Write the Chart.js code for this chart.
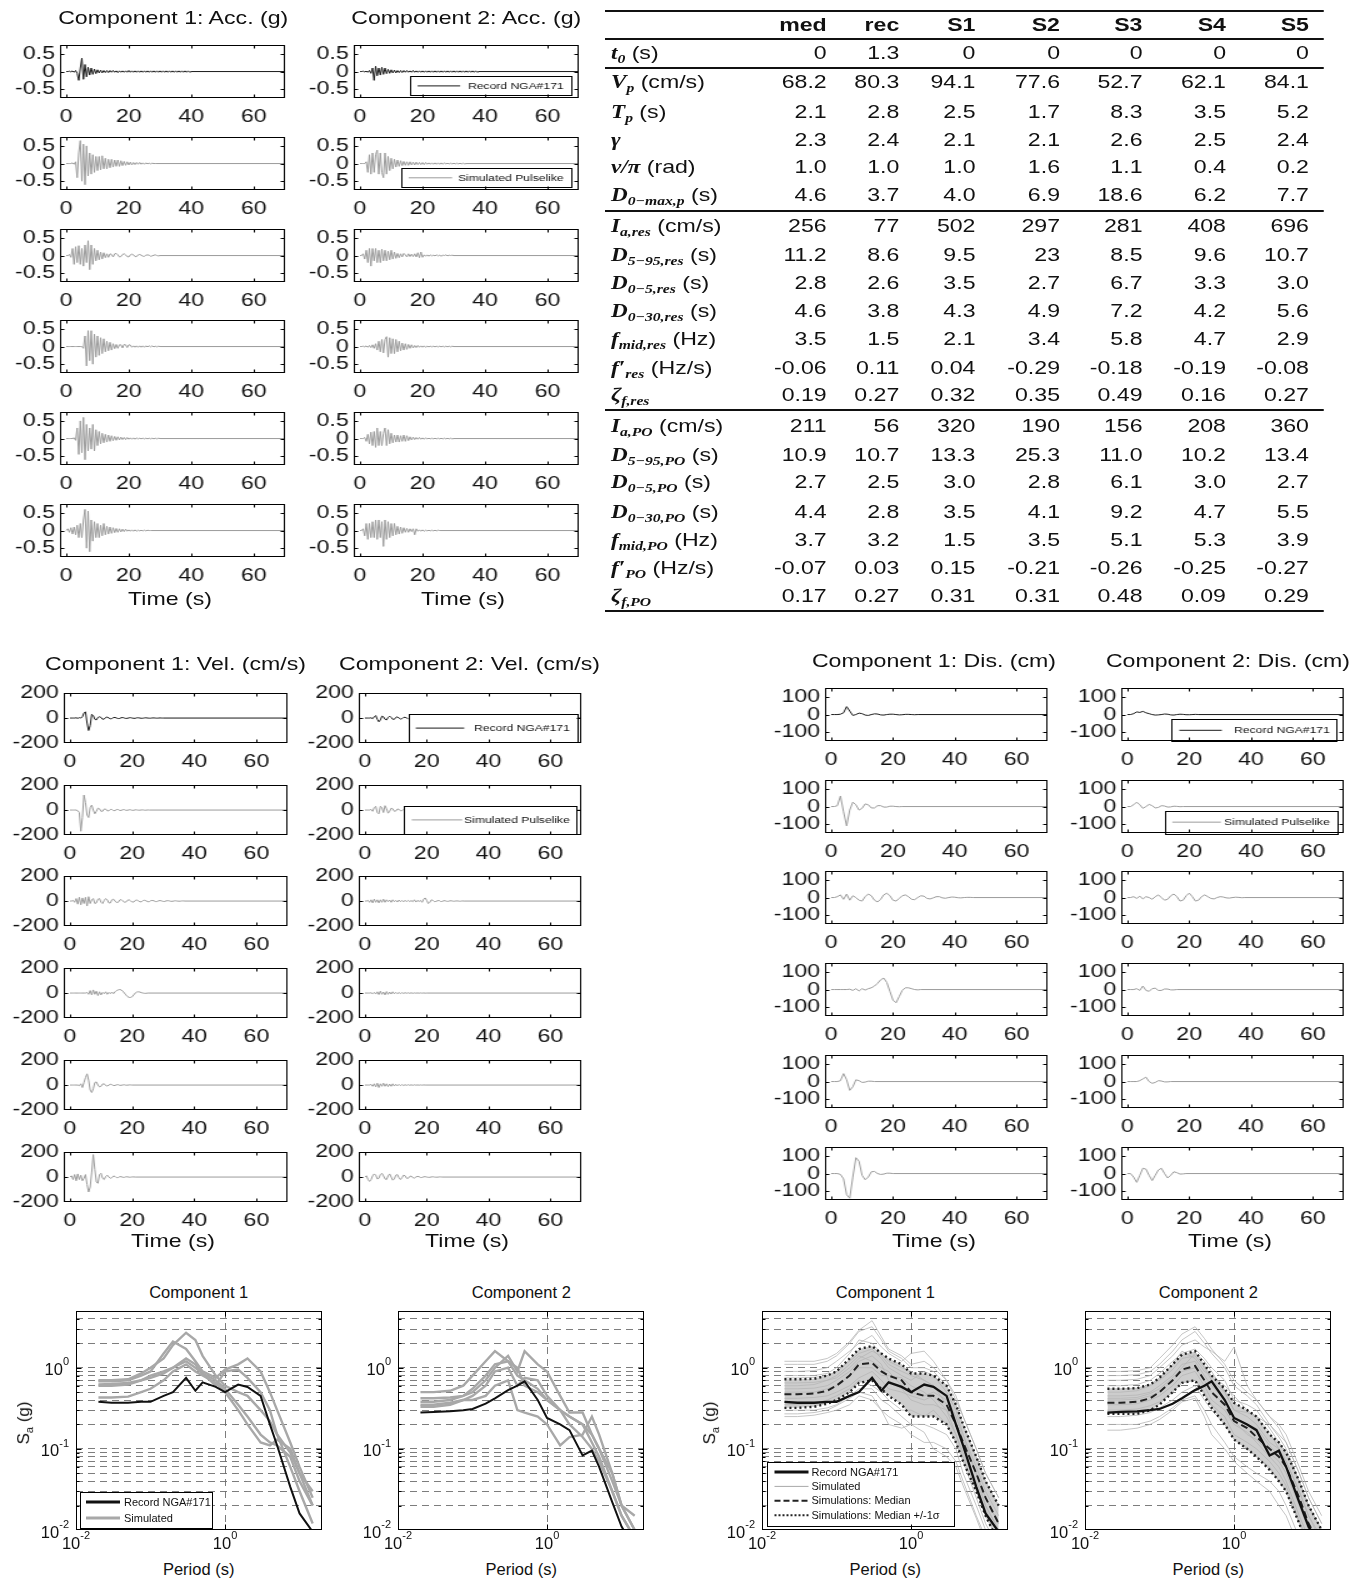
<!DOCTYPE html>
<html>
<head>
<meta charset="utf-8">
<script src="https://cdn.jsdelivr.net/npm/chart.js@4.4.1/dist/chart.umd.min.js"></script>
<style>
  body { margin:0; background:#fff; width:1364px; height:1580px; position:relative; overflow:hidden;
         font-family:"Liberation Sans", Arial, sans-serif; color:#111; }
  #upper { position:absolute; left:0; top:0; width:1100px; height:1260px; transform:scaleX(1.25); transform-origin:0 0; }
  #lower { position:absolute; left:0; top:0; width:1364px; height:1580px; }
  canvas { position:absolute; }
  .t { position:absolute; white-space:nowrap; text-align:center; }
  .m { font-family:"Liberation Serif", "DejaVu Serif", serif; font-weight:bold; font-style:italic; }
  sub.m { font-size:12.5px; vertical-align:-4px; line-height:0; }
</style>
</head>
<body>
<div id="lower"></div>
<div id="upper"></div>
<script>
// ---- time histories -------------------------------------------------------
const REC_END = 70;
const DT_ACC = 0.5, DT_VEL = 0.5, DT_DIS = 1;
const TIME_TICKS = [0, 20, 40, 60];

// acceleration (g), row 0 = record NGA#171, rows 1-5 = simulations
const ACC_C1 = [
  [0,0,0.01,-0.01,0.02,-0.02,0.03,-0.05,-0.25,0.1,0.38,-0.22,0.2,-0.15,0.12,-0.1,0.1,-0.08,0.07,-0.06,0.05,-0.04,0.04,-0.04,0.03,-0.03,0.03,-0.03,0.03,-0.02,0.03,-0.02,0.02,-0.03,0.02,-0.02,0.02,-0.02,0.02,-0.02,0.03,-0.02,0.02,-0.02,0.02,-0.02,0.02,-0.02,0.02,-0.02,0.02,-0.02,0.02,-0.02,0.02,-0.02,0.02,-0.02,0.02,-0.02,0.02,-0.02,0.02,-0.02,0.02,-0.02,0.02,-0.02,0.02,-0.02,0.02,-0.02,0.02,-0.02,0.02,-0.02,0.02,-0.02,0.02,-0.02,0],
  [0,0,0,0,0.02,-0.02,0.05,-0.4,0.3,0.65,-0.5,0.55,-0.6,0.5,-0.35,0.3,-0.3,0.25,-0.25,0.2,-0.2,0.2,-0.18,0.22,-0.15,0.15,-0.15,0.12,-0.12,0.12,-0.1,0.1,-0.08,0.1,-0.08,0.08,-0.06,0.06,-0.05,0.05,-0.04,0.04,-0.04,0.03,-0.03,0.03,-0.02,0.03,-0.02,0.02,-0.02,0.02,-0.01,0.01,-0.01,0.01,0,0],
  [0,0,0.03,-0.05,0.2,-0.25,0.25,-0.2,0.28,-0.25,0.2,-0.3,0.3,-0.2,0.42,-0.4,0.3,-0.25,0.2,-0.15,0.15,-0.12,0.1,-0.1,0.08,-0.06,0.05,-0.05,0.05,0.03,-0.04,0.05,0.06,0.02,-0.04,-0.03,0.03,0.05,0.02,-0.03,-0.04,0.02,0.04,0.02,-0.03,-0.03,0.02,0.03,0.01,-0.02,-0.02,0.01,0.02,0.01,-0.02,-0.01,0.01,0.02,0,-0.01,0],
  [0,0,0,0,0,0,0,0,0,0,0,-0.05,0.3,-0.55,0.45,-0.4,0.45,-0.5,0.35,-0.3,0.3,-0.25,0.25,-0.2,0.22,-0.15,0.15,-0.12,0.12,-0.1,0.08,-0.06,0.06,-0.05,0.05,0.05,-0.04,0.06,0.05,-0.03,0.05,0.04,-0.02,0.02,-0.02,0.02,-0.02,0.02,-0.02,0.02,-0.02,0.02,-0.01,0.02,-0.01,0.02,-0.01,0.01,-0.01,0.01,0],
  [0,0,0,0,0,0.02,-0.05,0.3,-0.45,0.5,-0.4,0.6,-0.6,0.4,-0.35,0.3,-0.3,0.4,-0.35,0.25,-0.2,0.2,-0.15,0.15,-0.12,0.12,-0.1,0.1,-0.08,0.08,-0.06,0.06,-0.05,0.05,-0.04,0.04,-0.03,0.03,-0.03,0.03,-0.02,0.02,-0.02,0.02,-0.02,0.02,-0.01,0.01,-0.01,0.01,-0.01,0.01,-0.01,0.01,-0.01,0.01,-0.01,0.01,-0.01,0.01,0],
  [0,0.05,-0.05,0.08,-0.1,0.1,-0.12,0.15,-0.2,0.2,-0.2,0.3,0.6,-0.5,0.55,-0.6,0.3,-0.3,0.25,-0.2,0.2,-0.2,0.15,-0.15,0.2,-0.12,0.12,-0.1,0.1,-0.08,0.08,-0.06,0.06,-0.05,0.05,-0.04,0.04,-0.03,0.04,-0.02,0.02,-0.02,0.02,-0.02,0.02,-0.02,0.01,-0.01,0.01,-0.01,0.01,-0.01,0.01,0,0]
];
const ACC_C2 = [
  [0,0,0.01,-0.01,0.01,-0.02,0.03,-0.05,0.1,-0.25,0.15,-0.12,0.1,-0.1,0.12,-0.08,0.1,-0.06,0.06,-0.05,0.05,-0.04,0.04,-0.04,0.03,-0.03,0.03,-0.03,0.03,-0.02,0.03,-0.02,0.02,-0.02,0.03,-0.02,0.02,-0.02,0.02,-0.02,0.02,-0.02,0.02,-0.02,0.02,-0.02,0.02,-0.02,0.02,-0.02,0.02,-0.02,0.02,-0.02,0.02,-0.02,0.02,-0.02,0.02,-0.02,0.02,-0.02,0.02,-0.02,0.02,-0.02,0.02,-0.02,0.02,-0.02,0.02,-0.02,0.02,-0.02,0.02,-0.02,0],
  [0,0,0,0,0.05,-0.25,0.25,-0.3,0.3,-0.25,0.25,0.38,-0.3,0.3,-0.25,-0.4,0.3,-0.3,0.2,-0.2,0.15,-0.15,0.12,-0.1,0.1,-0.08,0.08,-0.06,0.06,-0.05,0.05,-0.05,0.05,-0.04,0.04,-0.04,0.04,-0.03,0.03,-0.03,0.03,-0.03,0.03,-0.02,0.02,-0.02,0.02,-0.02,0.02,-0.02,0.02,-0.02,0.02,-0.02,0.02,-0.01,0.01,-0.01,0.01,-0.01,0.01,-0.01,0.01,-0.01,0.01,-0.01,0.01,-0.01,0],
  [0,0,0.05,-0.1,0.15,-0.2,0.2,-0.3,0.2,-0.15,0.2,-0.2,0.15,-0.2,0.18,-0.15,0.15,-0.15,0.12,-0.12,0.15,-0.1,0.1,-0.08,0.06,-0.06,0.05,-0.04,0.06,0.02,-0.04,0.05,-0.03,0.04,-0.03,0.05,-0.04,0.08,-0.06,0.1,-0.05,0.02,-0.02,0.02,-0.02,0.02,-0.01,0.01,-0.01,0.02,-0.01,0.01,-0.02,0.01,0,0.02,-0.01,0.01,0,0.01,0],
  [0,0,0.01,-0.01,0.02,-0.02,0.03,-0.03,0.05,-0.05,0.08,-0.1,0.15,-0.15,0.2,-0.18,0.2,0.28,-0.3,0.25,-0.2,0.22,-0.2,0.2,-0.15,0.15,-0.12,0.1,-0.1,0.08,-0.08,0.06,-0.05,0.05,-0.04,0.03,-0.03,0.03,-0.02,0.02,-0.02,0.02,-0.02,0.01,-0.01,0.01,-0.01,0.01,-0.01,0.01,-0.01,0.01,-0.01,0.01,-0.01,0.01,-0.01,0.01,-0.01,0.01,0],
  [0,0,0,0.03,-0.08,0.12,-0.15,0.18,-0.2,0.2,-0.25,0.3,-0.2,0.2,-0.2,0.15,0.3,-0.2,0.25,-0.15,0.15,-0.12,0.1,-0.1,0.1,-0.1,0.08,-0.08,0.1,-0.08,0.08,-0.06,0.05,-0.04,0.04,-0.03,0.03,-0.02,0.03,-0.02,0.02,-0.02,0.02,-0.01,0.01,-0.01,0.01,-0.01,0.01,-0.01,0.01,-0.01,0.01,-0.01,0.01,-0.01,0.01,-0.01,0.01,-0.01,0],
  [0,0,0.05,-0.15,0.2,-0.25,0.2,-0.2,0.25,-0.2,0.3,-0.25,0.3,-0.2,0.25,-0.45,0.3,-0.25,0.25,-0.2,0.2,-0.15,0.2,-0.12,0.12,-0.1,0.1,-0.08,0.08,-0.05,0.06,-0.05,0.05,-0.03,0.05,-0.12,0.05,-0.02,0.02,-0.02,0.02,-0.02,0.01,-0.01,0.01,-0.01,0.01,-0.01,0.01,-0.01,0.01,0,0]
];

// velocity (cm/s)
const VEL_C1 = [
  [0,0,0,0,2,-2,3,0,10,40,50,-40,-100,-60,30,20,-10,-15,5,10,5,-10,-8,5,8,0,-6,-4,4,5,0,-4,-3,3,4,0,-3,-2,2,3,0,-2,-2,2,2,0,-2,-1,1,2,0,-1,-1,1,1,0,-1,0,1,0,0],
  [0,0,0,0,0,-5,-20,-170,-60,120,60,-40,-60,20,40,0,-30,-10,15,10,-10,-10,8,8,-6,-6,5,5,-5,-4,4,4,-3,-3,3,3,-2,-2,2,2,-2,-2,2,1,-1,-1,1,1,-1,-1,1,0],
  [0,0,5,-10,20,-25,30,-30,25,-20,30,-40,35,-20,10,20,-20,-15,15,20,-10,-20,5,20,10,-15,-15,10,15,0,-12,-10,8,12,2,-10,-8,6,10,2,-8,-8,5,8,2,-6,-6,4,6,2,-5,-5,3,5,2,-4,-4,2,4,1,-3,-3,2,3,1,-2,-2,1,2,0,-1,-1,1,1,0],
  [0,0,0,0,0,0,0,0,0,0,0,5,-10,20,-15,25,-10,15,-20,10,-15,5,-5,10,-10,5,-5,8,-5,10,20,25,28,25,15,0,-15,-28,-35,-35,-30,-15,0,8,10,8,3,0,-2,-2,0],
  [0,0,0,0,0,0,-5,10,-20,20,60,90,40,-40,-60,-30,20,25,0,-15,-10,8,10,-4,-8,0,6,3,-4,-3,2,3,-2,-2,1,2,-1,-1,1,1,0],
  [0,10,-20,20,-30,25,-20,15,-30,-10,20,-60,-120,-80,40,180,60,-40,-50,20,30,-10,-20,5,15,0,-10,-5,8,5,-5,-4,3,3,-2,-2,2,2,-1,-1,1,1,0]
];
const VEL_C2 = [
  [0,0,0,0,2,-5,10,20,-10,-30,-15,15,10,-10,-15,5,15,5,-10,-10,5,10,0,-8,-5,5,6,0,-5,-3,3,4,0,-3,-2,2,3,0,-2,-2,2,2,0,-2,-1,1,1,0,-1,-1,1,1,0],
  [0,0,0,0,5,-10,20,30,-20,-30,30,20,-20,35,10,-25,-10,15,10,-10,-8,8,6,-6,-5,5,4,-4,-3,3,3,-3,-2,2,2,-2,-1,1,1,-1,0],
  [0,0,5,-10,10,-15,15,-10,10,-15,10,-10,15,-10,10,-5,8,-10,10,-5,5,-8,8,-5,5,-6,6,-5,5,-4,4,-5,10,-8,5,-3,5,-10,15,25,5,-20,-10,10,5,-5,-3,3,4,-4,-3,3,2,-2,-2,2,2,-1,-1,1,1,-1,-1,1,0],
  [0,0,0,0,2,-5,5,-8,10,-12,15,-10,8,-15,12,-10,8,-8,10,-6,5,-5,4,-4,3,-3,3,-2,2,-2,2,-2,1,-1,1,-1,1,-1,1,-1,0],
  [0,0,0,0,5,-10,10,-15,15,-20,10,-10,15,-10,10,-12,8,-10,10,-8,6,-6,5,-5,4,-4,3,-3,3,-2,2,-2,2,-1,1,-1,1,-1,1,0],
  [0,10,-20,-35,-20,10,25,15,-15,-10,20,30,10,-15,-20,10,25,0,-25,-15,15,20,-5,-20,-5,15,10,-10,-10,5,8,-5,-8,0,6,3,-4,-3,2,3,0,-2,-2,1,2,0,-1,-1,1,1,0]
];

// displacement (cm)
const DIS_C1 = [
  [0,0,0,2,10,45,20,-5,0,8,5,-3,-5,0,4,3,-2,-3,0,2,2,0,-2,-1,1,1,0,-1,0],
  [0,0,5,60,-30,-110,-20,25,10,-20,-10,15,10,-8,-8,5,5,-3,-3,2,2,0,-1,0],
  [0,0,5,15,-10,20,-15,10,0,-15,-20,5,20,10,-15,-25,-10,15,25,10,-15,-20,-5,10,15,5,-10,-12,0,10,8,-5,-8,-2,5,5,-2,-4,0,3,2,-1,-2,0,1,1,0],
  [0,0,0,0,0,0,2,-5,5,-8,5,-3,5,10,20,35,55,65,40,-10,-60,-75,-40,-5,10,10,5,0,-2,0],
  [0,0,0,5,45,10,-50,-30,10,5,-5,-3,2,2,0],
  [0,0,0,-5,-30,-120,-140,-20,90,70,-10,-35,-20,10,12,0,-5,-3,2,2,0]
];
const DIS_C2 = [
  [0,0,5,15,12,18,10,5,0,-3,-2,0,3,2,-2,-3,0,2,1,-1,-1,0,1,0],
  [0,0,10,25,10,-10,0,12,5,-8,-5,5,3,-3,-2,2,1,-1,0],
  [0,0,5,-5,8,-8,5,0,-10,5,15,0,-15,-10,10,20,5,-20,-15,10,25,5,-20,-15,5,15,5,-5,-8,0,5,3,-2,-3,0,2,1,-1,0],
  [0,0,0,5,-5,20,-5,-10,5,8,-5,-5,3,3,-2,-2,0],
  [0,0,0,0,5,15,25,0,-10,-5,5,3,-2,-2,0],
  [0,0,-20,-50,-10,30,25,-10,-40,-10,20,30,0,-25,-10,10,5,-3,-2,0]
];

// ---- response spectra (Sa in g) --------------------------------------------
const PERIODS = [0.02,0.03,0.05,0.075,0.1,0.15,0.2,0.3,0.4,0.5,0.75,1,1.5,2,3,4,5,7.5,10,15];
const SA_REC_C1 = [0.38,0.37,0.37,0.38,0.38,0.45,0.5,0.75,0.52,0.66,0.58,0.5,0.62,0.58,0.45,0.2,0.11,0.034,0.016,0.0095];
const SA_REC_C2 = [0.28,0.285,0.29,0.3,0.31,0.36,0.42,0.53,0.6,0.68,0.4,0.24,0.2,0.17,0.083,0.095,0.06,0.022,0.011,0.006];
const SA_SIM5_C1 = [
  [0.70,0.70,0.72,0.85,1.0,1.3,1.9,2.7,2.2,1.4,0.8,0.6,0.5,0.45,0.3,0.22,0.15,0.09,0.05,0.03],
  [0.68,0.68,0.70,0.80,0.9,1.5,2.1,1.7,1.2,0.9,0.75,0.95,1.1,1.3,0.9,0.5,0.3,0.12,0.06,0.025],
  [0.62,0.63,0.65,0.70,0.75,0.85,1.0,1.3,1.1,0.85,0.7,0.55,0.35,0.25,0.15,0.12,0.11,0.08,0.04,0.02],
  [0.60,0.60,0.62,0.70,0.80,0.9,1.0,1.2,1.0,0.85,0.6,0.9,0.95,0.75,0.5,0.3,0.15,0.06,0.03,0.012],
  [0.43,0.43,0.44,0.5,0.55,0.7,0.9,1.1,0.9,0.8,0.65,0.5,0.3,0.2,0.12,0.11,0.13,0.1,0.05,0.02]
];
const SA_SIM5_C2 = [
  [0.5,0.5,0.52,0.6,0.8,1.2,1.6,1.2,1.0,0.6,0.5,0.4,0.3,0.25,0.2,0.12,0.08,0.03,0.015,0.008],
  [0.42,0.42,0.43,0.45,0.5,0.7,1.0,1.4,0.9,1.6,1.1,0.9,0.45,0.28,0.28,0.15,0.1,0.04,0.02,0.015],
  [0.38,0.38,0.40,0.45,0.55,0.8,1.1,1.2,0.8,0.7,0.55,0.4,0.3,0.2,0.14,0.1,0.07,0.03,0.015,0.008],
  [0.35,0.35,0.37,0.40,0.45,0.6,0.9,1.0,0.6,0.75,0.7,0.45,0.3,0.25,0.2,0.15,0.1,0.05,0.02,0.01],
  [0.33,0.33,0.35,0.4,0.4,0.45,0.6,0.7,0.3,0.28,0.25,0.2,0.11,0.14,0.15,0.25,0.15,0.05,0.02,0.01]
];
const SA_MED_C1 = [0.47,0.47,0.48,0.52,0.6,0.8,1.1,1.15,0.9,0.8,0.7,0.5,0.45,0.45,0.35,0.2,0.12,0.05,0.025,0.012];
const SA_HI_C1  = [0.72,0.72,0.73,0.8,0.9,1.3,1.7,1.85,1.5,1.3,1.1,0.85,0.85,0.8,0.6,0.35,0.2,0.08,0.04,0.02];
const SA_LO_C1  = [0.32,0.32,0.33,0.36,0.4,0.5,0.65,0.7,0.55,0.45,0.35,0.25,0.25,0.25,0.2,0.12,0.07,0.03,0.015,0.007];
const SA_MED_C2 = [0.37,0.37,0.38,0.42,0.5,0.7,0.95,1.05,0.7,0.5,0.35,0.22,0.18,0.14,0.1,0.08,0.06,0.025,0.012,0.006];
const SA_HI_C2  = [0.55,0.55,0.56,0.62,0.75,1.1,1.45,1.6,1.1,0.8,0.55,0.37,0.3,0.25,0.15,0.12,0.09,0.04,0.02,0.01];
const SA_LO_C2  = [0.27,0.27,0.27,0.30,0.35,0.5,0.65,0.7,0.45,0.32,0.2,0.13,0.1,0.08,0.055,0.04,0.03,0.012,0.006,0.003];
const SA_MANY_C1 = [
  [1.2,1.2,1.2,1.3,1.5,2.1,2.9,3.8,2.4,1.7,1.4,1.1,1.2,1.0,0.7,0.45,0.25,0.1,0.05,0.025],
  [1.1,1.1,1.1,1.2,1.4,2.0,2.8,3.2,2.2,1.6,1.3,1.0,1.0,0.9,0.6,0.35,0.2,0.08,0.04,0.02],
  [0.9,0.9,0.92,1.0,1.2,1.6,2.0,2.5,1.8,1.5,1.2,1.5,1.6,1.2,0.7,0.4,0.25,0.1,0.05,0.025],
  [0.75,0.75,0.76,0.8,0.9,1.2,1.5,1.7,1.3,1.0,0.8,0.7,0.9,0.8,0.5,0.3,0.15,0.06,0.03,0.015],
  [0.65,0.65,0.66,0.7,0.8,1.1,1.4,1.2,1.0,0.9,0.6,0.5,0.45,0.5,0.4,0.25,0.15,0.05,0.025,0.012],
  [0.55,0.55,0.56,0.6,0.7,0.9,1.2,1.4,1.1,0.7,0.55,0.4,0.35,0.35,0.3,0.2,0.12,0.05,0.02,0.01],
  [0.5,0.5,0.5,0.55,0.6,0.8,1.0,1.0,0.8,0.8,0.75,0.6,0.5,0.4,0.25,0.15,0.09,0.035,0.018,0.009],
  [0.42,0.42,0.43,0.45,0.5,0.6,0.75,0.9,0.7,0.55,0.5,0.45,0.4,0.45,0.3,0.15,0.08,0.03,0.015,0.007],
  [0.35,0.35,0.36,0.4,0.45,0.55,0.7,0.6,0.5,0.4,0.3,0.3,0.25,0.3,0.2,0.12,0.07,0.025,0.012,0.006],
  [0.3,0.3,0.3,0.32,0.35,0.45,0.55,0.55,0.4,0.35,0.25,0.2,0.2,0.18,0.15,0.1,0.05,0.02,0.01,0.005],
  [0.25,0.25,0.26,0.28,0.3,0.35,0.45,0.4,0.3,0.25,0.2,0.15,0.12,0.12,0.1,0.07,0.04,0.015,0.008,0.004],
  [0.8,0.8,0.8,0.85,1.0,1.5,2.2,2.0,1.5,1.2,1.0,0.9,0.7,0.6,0.45,0.25,0.13,0.05,0.025,0.012],
  [0.6,0.6,0.62,0.7,0.75,1.0,1.3,1.6,1.4,1.1,0.9,0.8,0.7,0.6,0.35,0.2,0.1,0.04,0.02,0.01],
  [0.27,0.27,0.28,0.3,0.34,0.42,0.5,0.45,0.3,0.2,0.18,0.2,0.16,0.1,0.08,0.06,0.035,0.014,0.007,0.004]
];
const SA_MANY_C2 = [
  [0.9,0.9,0.92,1.0,1.3,1.9,2.6,3.2,2.3,1.7,1.1,0.7,0.5,0.4,0.25,0.2,0.15,0.06,0.03,0.015],
  [0.8,0.8,0.82,0.9,1.1,1.6,2.2,2.8,2.0,1.5,1.0,0.6,0.45,0.35,0.2,0.15,0.12,0.05,0.025,0.012],
  [0.7,0.7,0.72,0.8,1.0,1.4,1.9,2.2,1.8,1.6,1.2,1.8,0.6,0.4,0.25,0.18,0.12,0.05,0.025,0.012],
  [0.6,0.6,0.62,0.7,0.85,1.2,1.5,1.7,1.3,1.0,0.7,0.4,0.35,0.3,0.18,0.12,0.09,0.04,0.02,0.01],
  [0.5,0.5,0.52,0.6,0.7,0.95,1.3,1.4,1.0,0.7,0.5,0.3,0.25,0.2,0.12,0.1,0.07,0.03,0.015,0.008],
  [0.45,0.45,0.46,0.5,0.6,0.8,1.1,1.2,0.8,0.6,0.4,0.25,0.2,0.18,0.11,0.08,0.06,0.025,0.012,0.006],
  [0.4,0.4,0.41,0.45,0.5,0.7,0.9,1.0,0.7,0.5,0.35,0.22,0.15,0.13,0.09,0.07,0.05,0.02,0.01,0.005],
  [0.35,0.35,0.36,0.4,0.45,0.6,0.8,0.9,0.6,0.4,0.3,0.2,0.16,0.12,0.08,0.06,0.04,0.015,0.008,0.004],
  [0.3,0.3,0.31,0.34,0.38,0.5,0.65,0.7,0.5,0.35,0.25,0.15,0.12,0.1,0.07,0.05,0.035,0.013,0.007,0.003],
  [0.25,0.25,0.26,0.28,0.32,0.4,0.5,0.6,0.4,0.3,0.2,0.13,0.1,0.08,0.06,0.04,0.03,0.012,0.006,0.003],
  [0.2,0.2,0.2,0.22,0.25,0.32,0.4,0.45,0.3,0.2,0.12,0.08,0.06,0.05,0.04,0.03,0.02,0.008,0.004,0.002],
  [0.55,0.55,0.56,0.62,0.75,1.1,1.6,1.3,0.9,0.8,0.6,0.45,0.3,0.25,0.2,0.14,0.1,0.04,0.02,0.01],
  [0.42,0.42,0.43,0.48,0.55,0.75,1.0,1.5,1.2,0.9,0.5,0.3,0.28,0.25,0.16,0.1,0.07,0.03,0.015,0.007],
  [0.17,0.17,0.18,0.2,0.23,0.3,0.38,0.42,0.25,0.15,0.1,0.07,0.05,0.04,0.03,0.02,0.015,0.006,0.003,0.002]
];
const SA_YGRID = [0.02,0.03,0.04,0.05,0.06,0.07,0.08,0.09,0.1,0.2,0.3,0.4,0.5,0.6,0.7,0.8,0.9,1,2,3,4];

// ---- table -----------------------------------------------------------------
const TBL_HEAD = ['med','rec','S1','S2','S3','S4','S5'];
const TBL_VALUES = [
  ['0','1.3','0','0','0','0','0'],
  ['68.2','80.3','94.1','77.6','52.7','62.1','84.1'],
  ['2.1','2.8','2.5','1.7','8.3','3.5','5.2'],
  ['2.3','2.4','2.1','2.1','2.6','2.5','2.4'],
  ['1.0','1.0','1.0','1.6','1.1','0.4','0.2'],
  ['4.6','3.7','4.0','6.9','18.6','6.2','7.7'],
  ['256','77','502','297','281','408','696'],
  ['11.2','8.6','9.5','23','8.5','9.6','10.7'],
  ['2.8','2.6','3.5','2.7','6.7','3.3','3.0'],
  ['4.6','3.8','4.3','4.9','7.2','4.2','5.6'],
  ['3.5','1.5','2.1','3.4','5.8','4.7','2.9'],
  ['-0.06','0.11','0.04','-0.29','-0.18','-0.19','-0.08'],
  ['0.19','0.27','0.32','0.35','0.49','0.16','0.27'],
  ['211','56','320','190','156','208','360'],
  ['10.9','10.7','13.3','25.3','11.0','10.2','13.4'],
  ['2.7','2.5','3.0','2.8','6.1','3.0','2.7'],
  ['4.4','2.8','3.5','4.1','9.2','4.7','5.5'],
  ['3.7','3.2','1.5','3.5','5.1','5.3','3.9'],
  ['-0.07','0.03','0.15','-0.21','-0.26','-0.25','-0.27'],
  ['0.17','0.27','0.31','0.31','0.48','0.09','0.29']
];
const M = s => `<i class="m">${s}</i>`, SB = s => `<sub class="m">${s}</sub>`;
const TBL_LABELS = [
  M('t')+SB('0')+' (s)', M('V')+SB('p')+' (cm/s)', M('T')+SB('p')+' (s)', M('γ'), M('ν/π')+' (rad)',
  M('D')+SB('0−max,p')+' (s)', M('I')+SB('a,res')+' (cm/s)', M('D')+SB('5−95,res')+' (s)',
  M('D')+SB('0−5,res')+' (s)', M('D')+SB('0−30,res')+' (s)', M('f')+SB('mid,res')+' (Hz)',
  M('f′')+SB('res')+' (Hz/s)', M('ζ')+SB('f,res'), M('I')+SB('a,PO')+' (cm/s)',
  M('D')+SB('5−95,PO')+' (s)', M('D')+SB('0−5,PO')+' (s)', M('D')+SB('0−30,PO')+' (s)',
  M('f')+SB('mid,PO')+' (Hz)', M('f′')+SB('PO')+' (Hz/s)', M('ζ')+SB('f,PO')
];

// ---- layout ----------------------------------------------------------------
const S = 1.25;                       // horizontal stretch of the upper part
const FS = 18.5;                      // tick / title font of the upper part
const AXW = 44, AXH = 32, PT = 12, PR = 14;
const ROW_DY = 91.7;
const REC_COL = '#1a1a1a', SIM_COL = '#9c9c9c';
const FONT = '"Liberation Sans", Arial, sans-serif';
Chart.defaults.font.family = FONT;

const upperEl = document.getElementById('upper');
const lowerEl = document.getElementById('lower');

function addText(parent, html, cx, cy, size, extra) {
  const d = document.createElement('div');
  d.className = 't';
  d.innerHTML = html;
  d.style.cssText = `left:${cx - 300}px;width:600px;top:${cy - size * 0.6}px;font-size:${size}px;line-height:${size * 1.2}px;` + (extra || '');
  parent.appendChild(d);
  return d;
}

function drawLegend(ctx, a, lg) {
  const x = a.left + lg.x, y = a.top + lg.y;
  ctx.save();
  ctx.fillStyle = '#fff';
  ctx.fillRect(x, y, lg.w, lg.h);
  ctx.strokeStyle = '#000'; ctx.lineWidth = 1; ctx.setLineDash([]);
  ctx.strokeRect(Math.round(x) + 0.5, Math.round(y) + 0.5, Math.round(lg.w), Math.round(lg.h));
  ctx.font = lg.font; ctx.textBaseline = 'middle';
  lg.items.forEach((it, i) => {
    const cy = y + lg.y0 + i * lg.dy;
    ctx.beginPath();
    ctx.strokeStyle = it.color; ctx.lineWidth = it.width; ctx.setLineDash(it.dash || []);
    ctx.moveTo(x + lg.l1, cy); ctx.lineTo(x + lg.l2, cy); ctx.stroke();
    ctx.setLineDash([]);
    ctx.fillStyle = '#111';
    ctx.textAlign = lg.align || 'left';
    ctx.fillText(it.label, lg.align === 'right' ? x + lg.w - lg.tx : x + lg.tx, cy + 0.5);
  });
  ctx.restore();
}

function drawPow(ctx, chart, o) {
  const a = chart.chartArea, xs = chart.scales.x, ys = chart.scales.y;
  const lab = v => { const e = Math.round(Math.log10(v)); return e < 0 ? '-' + (-e) : String(e); };
  ctx.save();
  ctx.fillStyle = '#111'; ctx.textBaseline = 'middle'; ctx.textAlign = 'left';
  const measure = v => {
    ctx.font = `${o.size}px ${FONT}`; const wb = ctx.measureText('10').width;
    ctx.font = `${o.esize}px ${FONT}`; const we = ctx.measureText(lab(v)).width;
    return [wb, we];
  };
  const put = (v, x0, yb) => {
    const [wb] = measure(v);
    ctx.font = `${o.size}px ${FONT}`; ctx.fillText('10', x0, yb);
    ctx.font = `${o.esize}px ${FONT}`; ctx.fillText(lab(v), x0 + wb, yb - o.size * 0.5);
  };
  o.x.forEach(v => { const [wb, we] = measure(v); put(v, xs.getPixelForValue(v) - (wb + we) / 2, a.bottom + 14); });
  o.y.forEach(v => { const [wb, we] = measure(v); put(v, a.left - 7 - wb - we, ys.getPixelForValue(v) + 3); });
  ctx.restore();
}

const framePlugin = {
  id: 'frame',
  afterDatasetsDraw(chart, args, o) {
    const { ctx, chartArea: a } = chart;
    const xs = chart.scales.x, ys = chart.scales.y;
    if (o.legend) drawLegend(ctx, a, o.legend);
    ctx.save();
    ctx.strokeStyle = '#000'; ctx.lineWidth = 1; ctx.setLineDash([]);
    const L = Math.round(a.left) + 0.5, T = Math.round(a.top) + 0.5;
    const R = Math.round(a.right) - 0.5, B = Math.round(a.bottom) - 0.5;
    ctx.beginPath();
    xs.ticks.forEach(t => {
      const p = Math.round(xs.getPixelForValue(t.value)) + 0.5;
      if (p < L + 1 || p > R - 1) return;
      ctx.moveTo(p, B); ctx.lineTo(p, B - o.tick); ctx.moveTo(p, T); ctx.lineTo(p, T + o.tick);
    });
    ys.ticks.forEach(t => {
      const p = Math.round(ys.getPixelForValue(t.value)) + 0.5;
      if (p < T + 1 || p > B - 1) return;
      const len = o.log && Math.abs(Math.log10(t.value) % 1) > 1e-6 ? o.tick * 0.6 : o.tick;
      ctx.moveTo(L, p); ctx.lineTo(L + len, p); ctx.moveTo(R, p); ctx.lineTo(R - len, p);
    });
    ctx.stroke();
    ctx.strokeRect(L, T, R - L, B - T);
    ctx.restore();
    if (o.pow) drawPow(ctx, chart, o.pow);
  }
};

function makeCanvas(parent, left, topY, w, h) {
  const cv = document.createElement('canvas');
  cv.width = w; cv.height = h;
  cv.style.left = left + 'px'; cv.style.top = topY + 'px';
  cv.style.width = w + 'px'; cv.style.height = h + 'px';
  parent.appendChild(cv);
  return cv;
}

// one small time-history panel; box is given in figure pixels
function tracePanel(box, vals, dt, color, yMax, yTicks, leg) {
  const iw = Math.round(box.w / S);
  const W = AXW + iw + PR, H = PT + Math.round(box.h) + AXH;
  const cv = makeCanvas(upperEl, box.x / S - AXW, Math.round(box.y) - PT, W, H);
  const pts = vals.map((v, i) => ({ x: i * dt, y: v }));
  pts.push({ x: REC_END, y: 0 });
  let legend = null;
  if (leg) {
    legend = {
      x: (leg.x1 - box.x) / S, y: leg.y1 - box.y, w: (leg.x2 - leg.x1) / S, h: leg.y2 - leg.y1,
      font: `9.7px ${FONT}`, y0: (leg.y2 - leg.y1) / 2, dy: 0, l1: 6, l2: leg.lineEnd / S, tx: 6, align: 'right',
      items: [{ label: leg.label, color: leg.color, width: 1 }]
    };
  }
  const tickCfg = { padding: 8, color: '#111', font: { size: FS }, maxRotation: 0, autoSkip: false, callback: v => String(v) };
  new Chart(cv, {
    type: 'line',
    data: { datasets: [{ data: pts, borderColor: color, borderWidth: 1, pointRadius: 0, tension: 0 }] },
    options: {
      responsive: false, animation: false, events: [], devicePixelRatio: 1,
      layout: { padding: { top: PT, right: PR, left: 0, bottom: 0 } },
      plugins: { legend: { display: false }, tooltip: { enabled: false }, frame: { tick: 3, legend } },
      scales: {
        x: { type: 'linear', min: -2, max: REC_END,
             afterBuildTicks: s => { s.ticks = TIME_TICKS.map(v => ({ value: v })); },
             afterFit: s => { s.height = AXH; },
             grid: { display: false, drawTicks: false }, border: { display: false }, ticks: tickCfg },
        y: { type: 'linear', min: -yMax, max: yMax,
             afterBuildTicks: s => { s.ticks = yTicks.map(v => ({ value: v })); },
             afterFit: s => { s.width = AXW; },
             grid: { display: false, drawTicks: false }, border: { display: false }, ticks: { ...tickCfg, padding: 4 } }
      }
    },
    plugins: [framePlugin]
  });
}

function traceGroup(rows, dt, x, w, top0, h, yMax, yTicks, legends) {
  rows.forEach((vals, i) => {
    tracePanel({ x, y: top0 + i * ROW_DY, w, h }, vals, dt, i === 0 ? REC_COL : SIM_COL, yMax, yTicks, legends && legends[i]);
  });
}

const LEG_REC = 'Record NGA#171', LEG_SIM = 'Simulated Pulselike';
traceGroup(ACC_C1, DT_ACC, 60.4, 225.6, 42.3, 56.4, 0.75, [-0.5, 0, 0.5]);
traceGroup(ACC_C2, DT_ACC, 353.6, 225.4, 42.3, 56.4, 0.75, [-0.5, 0, 0.5], [
  { x1: 410, y1: 73.5, x2: 571, y2: 92.7, lineEnd: 50, label: LEG_REC, color: REC_COL },
  { x1: 401, y1: 165, x2: 571, y2: 184.4, lineEnd: 51, label: LEG_SIM, color: SIM_COL }
]);
traceGroup(VEL_C1, DT_VEL, 63.5, 224, 690, 52.5, 200, [-200, 0, 200]);
traceGroup(VEL_C2, DT_VEL, 358.5, 222, 690, 52.5, 200, [-200, 0, 200], [
  { x1: 408, y1: 711, x2: 577, y2: 739, lineEnd: 56, label: LEG_REC, color: REC_COL },
  { x1: 404, y1: 802.5, x2: 577, y2: 830.5, lineEnd: 58, label: LEG_SIM, color: SIM_COL }
]);
traceGroup(DIS_C1, DT_DIS, 825, 223, 685, 56, 150, [-100, 0, 100]);
traceGroup(DIS_C2, DT_DIS, 1121, 222, 685, 56, 150, [-100, 0, 100], [
  { x1: 1171.6, y1: 716, x2: 1337, y2: 738.4, lineEnd: 50, label: LEG_REC, color: REC_COL },
  { x1: 1164.6, y1: 807.5, x2: 1337, y2: 830, lineEnd: 56, label: LEG_SIM, color: SIM_COL }
]);

// titles and time labels of the upper panels
const TT = (html, cx, cy) => addText(upperEl, html, cx / S, cy, FS);
TT('Component 1: Acc. (g)', 173.2, 18); TT('Component 2: Acc. (g)', 466.3, 18);
TT('Time (s)', 170, 599); TT('Time (s)', 463, 599);
TT('Component 1: Vel. (cm/s)', 175.5, 664); TT('Component 2: Vel. (cm/s)', 469.5, 664);
TT('Time (s)', 173, 1241); TT('Time (s)', 467, 1241);
TT('Component 1: Dis. (cm)', 934, 661); TT('Component 2: Dis. (cm)', 1228, 661);
TT('Time (s)', 934, 1241); TT('Time (s)', 1230, 1241);

// table
const TBL_X0 = 605.5, TBL_X1 = 1323.7;
const TBL_RULES = [11.1, 39.3, 67.5, 210.5, 410, 610.5];
const TBL_HEAD_Y = 25.2;
const TBL_ROW_Y = [53.4,81.6,111.8,140,167.2,195.4,225.7,254.9,283.1,311.3,339.5,367.7,394.9,426.1,455.3,482.5,511.8,540,568.2,596.4];
const TBL_COL_R = [826.7, 899.3, 975.5, 1060, 1142.5, 1226, 1309];
TBL_RULES.forEach(y => {
  const d = document.createElement('div');
  d.style.cssText = `position:absolute;left:${TBL_X0 / S}px;width:${(TBL_X1 - TBL_X0) / S}px;top:${y - 1}px;height:2px;background:#111`;
  upperEl.appendChild(d);
});
const cell = (html, xr, cy, bold) =>
  addText(upperEl, html, 0, cy, FS, `text-align:right;width:120px;left:${xr / S - 120}px;` + (bold ? 'font-weight:bold;' : ''));
TBL_HEAD.forEach((h, j) => cell(h, TBL_COL_R[j], TBL_HEAD_Y, true));
TBL_VALUES.forEach((row, i) => row.forEach((v, j) => cell(v, TBL_COL_R[j], TBL_ROW_Y[i], false)));
TBL_LABELS.forEach((lab, i) => addText(upperEl, lab, 0, TBL_ROW_Y[i], FS, `text-align:left;width:200px;left:${611 / S}px;`));

// ---- response spectra ------------------------------------------------------
const SP_AXW = 60, SP_AXH = 30, SP_PT = 8, SP_PR = 10;
const SP_BOX_Y = 1311, SP_BOX_H = 219;
const toPts = vals => PERIODS.map((p, i) => ({ x: p, y: vals[i] }));

function specPanel(bx, bw, datasets, legend) {
  const W = SP_AXW + Math.round(bw) + SP_PR, H = SP_PT + SP_BOX_H + SP_AXH;
  const cv = makeCanvas(lowerEl, Math.round(bx) - SP_AXW, SP_BOX_Y - SP_PT, W, H);
  const gridCfg = { color: '#6e6e6e', lineWidth: 0.9, drawTicks: false };
  new Chart(cv, {
    type: 'line',
    data: { datasets },
    options: {
      responsive: false, animation: false, events: [], devicePixelRatio: 1,
      layout: { padding: { top: SP_PT, right: SP_PR, left: 0, bottom: 0 } },
      elements: { point: { radius: 0 }, line: { tension: 0 } },
      plugins: { legend: { display: false }, tooltip: { enabled: false },
                 frame: { tick: 5, log: true, legend, pow: { x: [0.01, 1], y: [0.01, 0.1, 1], size: 16.5, esize: 11 } } },
      scales: {
        x: { type: 'logarithmic', min: 0.01, max: 20,
             afterBuildTicks: s => { s.ticks = [0.01, 1].map(v => ({ value: v })); },
             afterFit: s => { s.height = SP_AXH; },
             grid: gridCfg, border: { display: false, dash: [7, 5] }, ticks: { display: false } },
        y: { type: 'logarithmic', min: 0.01, max: 5,
             afterBuildTicks: s => { s.ticks = SA_YGRID.map(v => ({ value: v })); },
             afterFit: s => { s.width = SP_AXW; },
             grid: gridCfg, border: { display: false, dash: [7, 5] }, ticks: { display: false } }
      }
    },
    plugins: [framePlugin]
  });
}

const line = (vals, color, w, order) => ({ data: toPts(vals), borderColor: color, borderWidth: w, order, pointRadius: 0 });

function fewSet(rec, sims) {
  return [...sims.map(v => line(v, '#a8a8a8', 2.4, 3)), line(rec, '#111', 2, 1)];
}
function manySet(rec, many, med, hi, lo) {
  return [
    // dense core of the simulation cloud, bounded by the +/-1 sigma curves
    { data: toPts(hi), borderWidth: 0, fill: '+1', backgroundColor: '#cdcdcd', order: 9, pointRadius: 0 },
    { data: toPts(lo), borderWidth: 0, fill: false, order: 9, pointRadius: 0 },
    ...many.map(v => line(v, '#b6b6b6', 0.8, 5)),
    { ...line(med, '#222', 2, 2), borderDash: [7, 4] },
    { ...line(hi, '#222', 2.4, 2), borderDash: [2, 3] },
    { ...line(lo, '#222', 2.4, 2), borderDash: [2, 3] },
    line(rec, '#111', 2.3, 1)
  ];
}

const SP_X = [75.7, 398.3, 762.3, 1085.3], SP_W = 246;
const legFew = { x: 4, y: 1492 - SP_BOX_Y, w: 132, h: 36, font: `11px ${FONT}`, y0: 10, dy: 16, l1: 6, l2: 40, tx: 44,
  items: [{ label: 'Record NGA#171', color: '#111', width: 3 }, { label: 'Simulated', color: '#a8a8a8', width: 3 }] };
const legMany = { x: 4.5, y: 1462 - SP_BOX_Y, w: 187, h: 64, font: `11px ${FONT}`, y0: 10, dy: 14.4, l1: 8, l2: 42, tx: 45,
  items: [{ label: 'Record NGA#171', color: '#111', width: 3 },
          { label: 'Simulated', color: '#a8a8a8', width: 1 },
          { label: 'Simulations: Median', color: '#222', width: 2, dash: [6, 3] },
          { label: 'Simulations: Median +/-1σ', color: '#222', width: 2, dash: [2, 2] }] };

specPanel(SP_X[0], SP_W, fewSet(SA_REC_C1, SA_SIM5_C1), legFew);
specPanel(SP_X[1], SP_W, fewSet(SA_REC_C2, SA_SIM5_C2), null);
specPanel(SP_X[2], SP_W, manySet(SA_REC_C1, SA_MANY_C1, SA_MED_C1, SA_HI_C1, SA_LO_C1), legMany);
specPanel(SP_X[3], SP_W, manySet(SA_REC_C2, SA_MANY_C2, SA_MED_C2, SA_HI_C2, SA_LO_C2), null);

SP_X.forEach((x, i) => {
  addText(lowerEl, i % 2 ? 'Component 2' : 'Component 1', x + SP_W / 2, 1293, 16.5);
  addText(lowerEl, 'Period (s)', x + SP_W / 2, 1570, 16.5);
  if (i % 2 === 0) addText(lowerEl, 'S<sub style="font-size:11px">a</sub> (g)', x - 49, 1420, 17, 'transform:rotate(-90deg);');
});
</script>
</body>
</html>
